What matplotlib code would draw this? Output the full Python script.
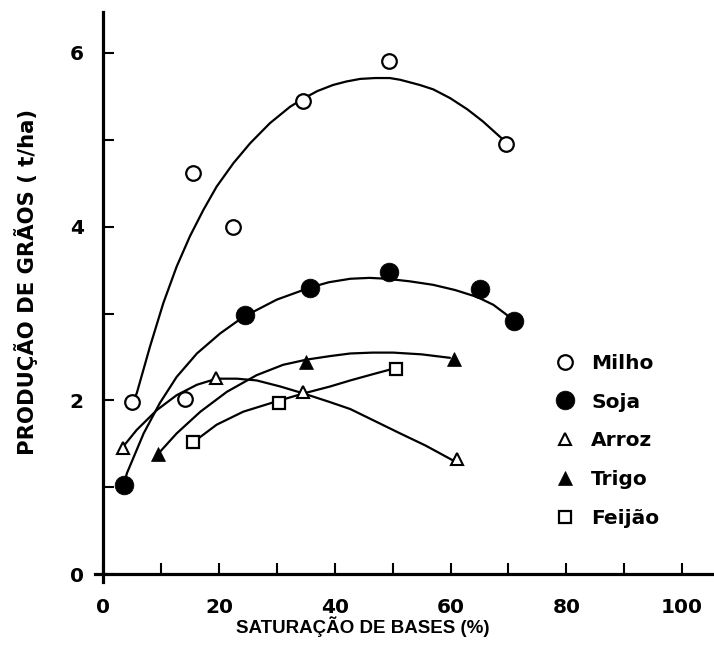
import matplotlib
matplotlib.use("Agg")
import matplotlib.pyplot as plt
from matplotlib import font_manager
from matplotlib.lines import Line2D
from matplotlib.ticker import MultipleLocator

# observed points (saturacao de bases %, producao t/ha)
milho_x = [5.0, 14.2, 15.6, 22.5, 34.5, 49.4, 69.6]
milho_y = [1.98, 2.02, 4.62, 4.00, 5.45, 5.91, 4.95]
soja_x = [3.6, 24.5, 35.8, 49.4, 65.1, 71.0]
soja_y = [1.03, 2.98, 3.29, 3.48, 3.28, 2.91]
arroz_x = [3.5, 19.5, 34.5, 61.1]
arroz_y = [1.45, 2.26, 2.10, 1.32]
trigo_x = [9.5, 35.1, 60.6]
trigo_y = [1.38, 2.44, 2.48]
feijao_x = [15.6, 30.3, 50.6]
feijao_y = [1.52, 1.97, 2.36]

# fitted curves
milho_cx = [5.0, 5.8, 8.1, 10.4, 12.7, 15.0, 17.3, 19.6, 22.5, 25.4, 28.8, 32.3, 34.5,
            37.0, 39.7, 42.0, 44.4, 47.0, 49.5, 51.3, 54.7, 57.0, 59.9, 62.9, 65.6, 69.1]
milho_cy = [1.98, 2.08, 2.62, 3.12, 3.54, 3.89, 4.19, 4.46, 4.73, 4.96, 5.19, 5.38, 5.47,
            5.56, 5.63, 5.67, 5.70, 5.71, 5.71, 5.69, 5.63, 5.58, 5.48, 5.35, 5.21, 5.0]
soja_cx = [3.6, 4.1, 7.0, 9.8, 12.7, 16.2, 20.2, 24.2, 30.0, 35.8, 39.0, 42.7, 46.0, 49.0,
           53.0, 57.0, 60.8, 64.6, 67.4, 70.8]
soja_cy = [1.03, 1.16, 1.62, 1.97, 2.27, 2.54, 2.77, 2.96, 3.16, 3.30, 3.36, 3.40, 3.41, 3.40,
           3.37, 3.33, 3.27, 3.19, 3.10, 2.93]
arroz_cx = [3.0, 5.8, 9.3, 12.7, 16.2, 19.6, 23.1, 26.5, 30.6, 34.6, 39.2, 42.7, 47.0, 51.3,
            55.7, 60.4]
arroz_cy = [1.43, 1.66, 1.89, 2.06, 2.18, 2.25, 2.25, 2.23, 2.16, 2.08, 1.98, 1.90, 1.76, 1.62,
            1.48, 1.31]
trigo_cx = [9.3, 12.7, 16.8, 21.4, 26.5, 31.1, 35.2, 39.2, 42.7, 46.5, 50.1, 55.0, 59.9]
trigo_cy = [1.37, 1.62, 1.87, 2.10, 2.29, 2.41, 2.47, 2.51, 2.54, 2.55, 2.55, 2.53, 2.49]
feijao_cx = [15.6, 19.6, 24.2, 30.0, 34.6, 39.2, 42.7, 46.5, 50.4]
feijao_cy = [1.52, 1.72, 1.87, 1.99, 2.08, 2.16, 2.23, 2.30, 2.37]

labels = ['Milho', 'Soja', 'Arroz', 'Trigo', 'Feijão']

names = {f.name for f in font_manager.fontManager.ttflist}
if 'Liberation Sans Narrow' in names:
    xlab_font, xlab_size = 'Liberation Sans Narrow', 15
else:
    xlab_font, xlab_size = 'Liberation Sans', 13.5

W, H = 714, 666
fig = plt.figure(figsize=(W / 100, H / 100), dpi=100)
ax = fig.add_axes([95 / W, 84 / H, 619 / W, 570 / H])

lw = 1.6
for cx, cy in [(milho_cx, milho_cy), (soja_cx, soja_cy), (arroz_cx, arroz_cy),
               (trigo_cx, trigo_cy), (feijao_cx, feijao_cy)]:
    ax.plot(cx, cy, color='black', lw=lw, zorder=2, solid_capstyle='round',
            solid_joinstyle='round')

styles = [
    dict(marker='o', ms=10.5, mfc='white', mec='black', mew=1.6),
    dict(marker='o', ms=13.5, mfc='black', mec='black', mew=0.5),
    dict(marker='^', ms=8.5, mfc='white', mec='black', mew=1.5),
    dict(marker='^', ms=9.5, mfc='black', mec='black', mew=0.5),
    dict(marker='s', ms=8.5, mfc='white', mec='black', mew=1.6),
]
series = [(milho_x, milho_y), (soja_x, soja_y), (arroz_x, arroz_y),
          (trigo_x, trigo_y), (feijao_x, feijao_y)]
for (x, y), st in zip(series, styles):
    ax.plot(x, y, ls='none', zorder=3, **st)

ax.set_xlim(-1.4, 105.5)
ax.set_ylim(-0.09, 6.47)
for s in ['top', 'right']:
    ax.spines[s].set_visible(False)
ax.spines['left'].set_position(('data', 0))
ax.spines['bottom'].set_position(('data', 0))
ax.spines['left'].set_linewidth(2.3)
ax.spines['bottom'].set_linewidth(2.3)

ax.xaxis.set_major_locator(MultipleLocator(20))
ax.xaxis.set_minor_locator(MultipleLocator(10))
ax.yaxis.set_major_locator(MultipleLocator(2))
ax.yaxis.set_minor_locator(MultipleLocator(1))
ax.tick_params(which='both', direction='in', width=1.5, length=8)
ax.tick_params(axis='x', which='major', pad=17.5)
ax.tick_params(axis='y', which='major', pad=14)

tick_font = dict(family='DejaVu Sans', weight='bold', size=14.5)
ax.set_xticks([0, 20, 40, 60, 80, 100])
ax.set_xticklabels(['0', '20', '40', '60', '80', '100'], fontdict=tick_font)
ax.set_yticks([0, 2, 4, 6])
ax.set_yticklabels(['0', '2', '4', '6'], fontdict=tick_font)

fig.text(363 / W, 1 - 633 / H, 'SATURAÇÃO DE BASES (%)', ha='center', va='baseline',
         family=[xlab_font, 'DejaVu Sans'], weight='bold', fontsize=xlab_size)
fig.text(34 / W, 1 - 282 / H, 'PRODUÇÃO DE GRÃOS ( t/ha)', rotation=90, rotation_mode='anchor',
         ha='center', va='baseline', family='DejaVu Sans', weight='bold', fontsize=15.2)

handles = [Line2D([], [], ls='none', **st) for st in styles]
ax.legend(handles, labels, loc='upper left', bbox_to_anchor=(0.727, 0.418),
          frameon=False, borderpad=0, handlelength=1.0, handletextpad=0.8,
          labelspacing=0.98, prop=dict(family='DejaVu Sans', weight='bold', size=14.5))

fig.savefig('out.png', dpi=100)
